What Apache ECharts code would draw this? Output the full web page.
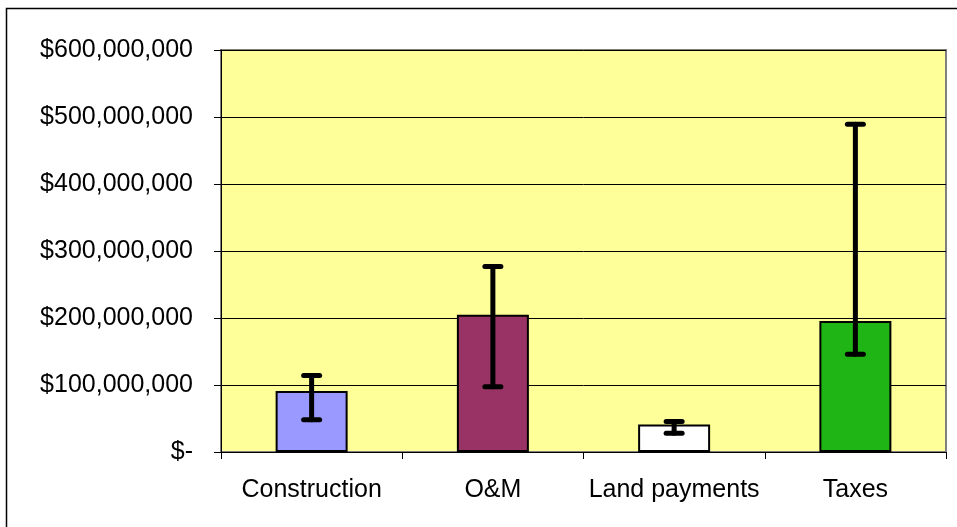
<!DOCTYPE html>
<html><head><meta charset="utf-8">
<script src="https://cdn.jsdelivr.net/npm/echarts@6/dist/echarts.min.js"></script>
<style>html,body{margin:0;padding:0;background:#fff}#c{width:957px;height:527px}</style>
</head><body><div id="c"></div>
<script>
const categories = ['Construction', 'O&M', 'Land payments', 'Taxes'];
const values = [91000000, 205000000, 41000000, 195500000];
const errLow = [48000000, 97500000, 28000000, 146000000];
const errHigh = [114000000, 277000000, 45500000, 489000000];
const barColors = ['#9999FF', '#993366', '#FFFFFF', '#1FB515'];
const yTicks = [0, 100000000, 200000000, 300000000, 400000000, 500000000, 600000000];

function fmt(v) {
  if (v === 0) return '$-';
  return '$' + v.toLocaleString('en-US');
}

const chart = echarts.init(document.getElementById('c'), null, {renderer: 'canvas'});
chart.setOption({
  animation: false,
  backgroundColor: '#ffffff',
  graphic: [{
    type: 'rect', shape: {x: 6.5, y: 8.5, width: 1000, height: 600},
    style: {fill: 'none', stroke: '#000', lineWidth: 1.5}, silent: true, z: -1
  }],
  grid: {left: 221, right: 11, top: 50, bottom: 75, show: true,
         backgroundColor: '#FFFF99', borderColor: '#808080', borderWidth: 2},
  xAxis: {
    type: 'category', data: categories,
    axisLine: {lineStyle: {color: '#000', width: 1}},
    axisTick: {show: true, interval: 0, length: 7, alignWithLabel: false, lineStyle: {color: '#000'}},
    axisLabel: {interval: 0, hideOverlap: false, color: '#000', fontSize: 25,
                fontFamily: 'Liberation Sans, Arial', margin: 26}
  },
  yAxis: {
    type: 'value', min: 0, max: yTicks[yTicks.length - 1], interval: yTicks[1] - yTicks[0],
    axisLine: {show: true, lineStyle: {color: '#000', width: 1}},
    axisTick: {show: true, length: 7, lineStyle: {color: '#000'}},
    splitLine: {show: true, lineStyle: {color: '#000', width: 1}},
    axisLabel: {color: '#000', fontSize: 25, fontFamily: 'Liberation Sans, Arial', margin: 28,
                formatter: fmt}
  },
  series: [{
    type: 'bar', barWidth: 72,
    data: values.map((v, i) => ({value: v, itemStyle: {color: barColors[i]}})),
    itemStyle: {borderColor: '#000', borderWidth: 2}
  }, {
    type: 'custom',
    data: categories.map((c, i) => [i, errLow[i], errHigh[i]]),
    renderItem: function (params, api) {
      const lo = api.coord([api.value(0), api.value(1)]);
      const hi = api.coord([api.value(0), api.value(2)]);
      const x = lo[0], w = 8;
      const st = {stroke: '#000', lineWidth: 5, lineCap: 'round'};
      return {type: 'group', children: [
        {type: 'line', shape: {x1: x, y1: lo[1], x2: x, y2: hi[1]}, style: st},
        {type: 'line', shape: {x1: x - w, y1: lo[1], x2: x + w, y2: lo[1]}, style: st},
        {type: 'line', shape: {x1: x - w, y1: hi[1], x2: x + w, y2: hi[1]}, style: st}
      ]};
    },
    z: 5
  }]
});
</script></body></html>
